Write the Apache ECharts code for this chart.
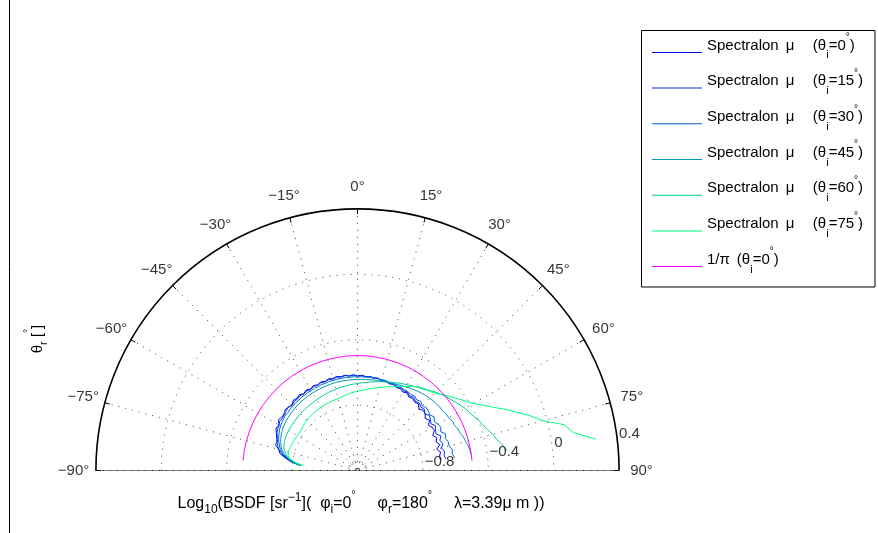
<!DOCTYPE html>
<html><head><meta charset="utf-8">
<script src="https://cdn.jsdelivr.net/npm/echarts@6/dist/echarts.min.js"></script>
<style>html,body{margin:0;padding:0;background:#fff}#c{width:878px;height:533px}</style>
</head><body><div id="c"></div>
<script>
// ---- data ----
const thetaR = [-85,-82.5,-80,-77.5,-75,-72.5,-70,-67.5,-65,-62.5,
 -60,-57.5,-55,-52.5,-50,-47.5,-45,-42.5,-40,-37.5,
 -35,-32.5,-30,-27.5,-25,-22.5,-20,-17.5,-15,-12.5,
 -10,-7.5,-5,-2.5,0,2.5,5,7.5,10,12.5,
 15,17.5,20,22.5,25,27.5,30,32.5,35,37.5,
 40,42.5,45,47.5,50,52.5,55,57.5,60,62.5,
 65,67.5,70,72.5,75,77.5,80,82.5,85];
const spec0 = [-0.85,-0.79,-0.75,-0.712,-0.702,-0.672,-0.68,-0.664,-0.652,-0.638,
 -0.648,-0.626,-0.631,-0.64,-0.622,-0.628,-0.634,-0.618,-0.623,-0.616,
 -0.627,-0.616,-0.625,-0.615,-0.622,-0.614,-0.62,-0.612,-0.618,-0.611,
 -0.618,-0.612,-0.62,-0.614,-0.622,-0.617,-0.624,-0.62,-0.628,-0.622,
 -0.632,-0.626,-0.636,-0.63,-0.64,-0.634,-0.646,-0.636,-0.652,-0.645,
 -0.655,-0.648,-0.668,-0.655,-0.66,-0.678,-0.662,-0.685,-0.672,-0.67,
 -0.692,-0.675,-0.688,-0.672,-0.698,-0.68,-0.69,-0.684,null];
const spec15 = [-0.85,-0.795,-0.755,-0.725,-0.70,-0.688,-0.674,-0.67,-0.656,-0.65,
 -0.644,-0.636,-0.642,-0.63,-0.632,-0.624,-0.636,-0.626,-0.63,-0.622,
 -0.629,-0.622,-0.628,-0.62,-0.625,-0.618,-0.623,-0.616,-0.621,-0.615,
 -0.62,-0.614,-0.62,-0.616,-0.622,-0.618,-0.623,-0.62,-0.625,-0.621,
 -0.628,-0.624,-0.631,-0.627,-0.634,-0.629,-0.638,-0.631,-0.644,-0.636,
 -0.648,-0.64,-0.652,-0.645,-0.662,-0.646,-0.655,-0.668,-0.65,-0.662,
 -0.67,-0.648,-0.664,-0.652,-0.668,-0.655,-0.662,-0.656,null];
const spec30 = [-0.85,-0.80,-0.762,-0.735,-0.712,-0.70,-0.688,-0.678,-0.67,-0.662,
 -0.656,-0.652,-0.648,-0.645,-0.646,-0.642,-0.643,-0.639,-0.64,-0.636,
 -0.638,-0.634,-0.636,-0.632,-0.634,-0.63,-0.632,-0.628,-0.63,-0.627,
 -0.629,-0.626,-0.628,-0.626,-0.628,-0.626,-0.627,-0.625,-0.626,-0.624,
 -0.626,-0.624,-0.626,-0.625,-0.627,-0.626,-0.628,-0.627,-0.632,-0.626,
 -0.636,-0.627,-0.64,-0.63,-0.634,-0.642,-0.628,-0.643,-0.632,-0.626,
 -0.638,-0.616,-0.628,-0.618,-0.62,-0.606,-0.612,-0.60,null];
const spec45 = [-0.85,-0.805,-0.77,-0.742,-0.722,-0.71,-0.70,-0.692,-0.685,-0.68,
 -0.675,-0.671,-0.668,-0.666,-0.664,-0.662,-0.66,-0.658,-0.657,-0.655,
 -0.654,-0.653,-0.652,-0.651,-0.65,-0.649,-0.648,-0.647,-0.646,-0.645,
 -0.645,-0.644,-0.644,-0.643,-0.643,-0.642,-0.641,-0.64,-0.638,-0.636,
 -0.634,-0.631,-0.628,-0.624,-0.62,-0.615,-0.61,-0.602,-0.598,-0.59,
 -0.585,-0.578,-0.576,-0.57,-0.57,-0.564,-0.565,-0.556,-0.556,-0.546,
 -0.546,-0.535,-0.532,-0.52,-0.516,-0.506,-0.502,-0.497,null];
const spec60 = [-0.85,-0.81,-0.78,-0.755,-0.738,-0.728,-0.722,-0.718,-0.716,-0.714,
 -0.713,-0.712,-0.712,-0.711,-0.71,-0.709,-0.708,-0.707,-0.706,-0.705,
 -0.704,-0.702,-0.70,-0.698,-0.695,-0.693,-0.69,-0.688,-0.685,-0.683,
 -0.68,-0.677,-0.674,-0.671,-0.668,-0.664,-0.66,-0.655,-0.65,-0.644,
 -0.638,-0.632,-0.625,-0.618,-0.61,-0.602,-0.594,-0.585,-0.576,-0.566,
 -0.555,-0.538,-0.522,-0.51,-0.495,-0.484,-0.47,-0.455,-0.44,-0.43,
 -0.415,-0.398,-0.385,-0.365,-0.345,-0.325,-0.30,-0.278,null];
const spec75 = [-0.87,-0.815,-0.775,-0.765,-0.762,-0.764,-0.766,-0.768,-0.77,-0.772,
 -0.774,-0.776,-0.775,-0.773,-0.77,-0.767,-0.764,-0.762,-0.76,-0.758,
 -0.756,-0.754,-0.752,-0.751,-0.75,-0.749,-0.748,-0.746,-0.744,-0.74,
 -0.735,-0.73,-0.725,-0.72,-0.715,-0.71,-0.705,-0.698,-0.69,-0.683,
 -0.675,-0.665,-0.655,-0.645,-0.634,-0.62,-0.605,-0.59,-0.572,-0.56,
 -0.552,-0.545,-0.53,-0.51,-0.487,-0.465,-0.44,-0.412,-0.38,-0.335,
 -0.285,-0.222,-0.16,-0.09,-0.025,0.095,0.14,0.27,null];
const lambertAngles = [-85,-80,-75,-70,-65,-60,-55,-50,-45,-40,-35,-30,-25,-20,-15,-10,-5,0,5,10,15,20,25,30,35,40,45,50,55,60,65,70,75,80,85];
const lambertVals = [-0.497,-0.497,-0.497,-0.497,-0.497,-0.497,-0.497,-0.497,-0.497,-0.497,-0.497,-0.497,-0.497,-0.497,-0.497,-0.497,-0.497,-0.497,-0.497,-0.497,-0.497,-0.497,-0.497,-0.497,-0.497,-0.497,-0.497,-0.497,-0.497,-0.497,-0.497,-0.497,-0.497,-0.497,-0.497];
const incidence = [0, 15, 30, 45, 60, 75];
const specSeries = [spec0, spec15, spec30, spec45, spec60, spec75];
const specColors = ['#0000ff', '#0033e6', '#0066cc', '#0099b3', '#00cc99', '#00ff80'];
const lambertColor = '#ff00ff';
const angleTicks = [-90,-75,-60,-45,-30,-15,0,15,30,45,60,75,90];
const radialTicks = [-1.2,-0.8,-0.4,0,0.4];
const radialLabelTicks = [-0.8,-0.4,0,0.4];

// ---- layout ----
const FONT = 'Liberation Sans, Arial, Helvetica, sans-serif';
const CX = 357.5, CY = 470.5, R = 261.6;
const LABEL_R = 0.537;   // radius value where angle labels are centred
const RLABEL_ANGLE = 82; // angle of radial tick labels
const minus = s => String(s).replace('-', '\u2212');

const names = incidence.map(a => 'Spectralon \u03bc (\u03b8i=' + a + '\u00b0)');
const lambertName = '1/\u03c0 (\u03b8i=0\u00b0)';

function legendRich(name) {
  if (name === lambertName) return '{n|1/\u03c0}{a| }{n|(\u03b8}{s|i}{n|=0}{u|\u00b0}{n|)}';
  const m = name.match(/=(\d+)/);
  return '{n|Spectralon}{a| }{n|\u03bc}{b| }{n|(\u03b8}{s|i}{n|=' + m[1] + '}{u|\u00b0}{n|)}';
}

const series = specSeries.map((vals, k) => ({
  name: names[k], type: 'line', coordinateSystem: 'polar', showSymbol: false, clip: false,
  data: thetaR.map((t, i) => [vals[i], t]).filter(d => d[0] !== null),
  lineStyle: { color: specColors[k], width: 1 }, itemStyle: { color: specColors[k] },
  silent: true, z: 3 + k
}));
series.push({
  name: lambertName, type: 'line', coordinateSystem: 'polar', showSymbol: false, clip: false,
  data: lambertAngles.map((t, i) => [lambertVals[i], t]),
  lineStyle: { color: lambertColor, width: 1 }, itemStyle: { color: lambertColor }, silent: true, z: 10
});
// baseline (diameter of the half polar)
const rOuter = radialTicks[radialTicks.length - 1];
series.push({
  type: 'line', coordinateSystem: 'polar', showSymbol: false, clip: false, silent: true,
  data: [[rOuter, angleTicks[0]], [rOuter, angleTicks[angleTicks.length - 1]]],
  lineStyle: { color: '#000', width: 1.2 }, z: 2
});
// angle labels
series.push({
  type: 'scatter', coordinateSystem: 'polar', symbolSize: 1, silent: true, clip: false,
  itemStyle: { color: 'rgba(0,0,0,0)' },
  data: angleTicks.map(a => [LABEL_R, a]),
  label: { show: true, position: 'inside', color: '#000', fontFamily: FONT, fontSize: 15,
    formatter: p => minus(p.value[1]) + '\u00b0' }, z: 12
});
// radial labels
series.push({
  type: 'scatter', coordinateSystem: 'polar', symbolSize: 1, silent: true, clip: false,
  itemStyle: { color: 'rgba(0,0,0,0)' },
  data: radialLabelTicks.map(v => [v, RLABEL_ANGLE]),
  label: { show: true, position: 'right', distance: 2, color: '#000', fontFamily: FONT, fontSize: 15,
    formatter: p => minus(p.value[0]) }, z: 12
});

// rich token: font size, top padding, bottom padding, width
const tok = (fs, pt, pb, w) => {
  const o = { fontSize: fs, verticalAlign: 'top', fontFamily: FONT, color: '#000', padding: [pt, 0, pb || 0, 0] };
  if (w) o.width = w;
  return o;
};

const chart = echarts.init(document.getElementById('c'), null, { renderer: 'canvas' });
chart.setOption({
  animation: false,
  backgroundColor: '#fff',
  polar: { center: [CX, CY], radius: R },
  angleAxis: {
    type: 'value', min: -90, max: 90, interval: 15, startAngle: 180, endAngle: 0, clockwise: true,
    axisLine: { show: true, lineStyle: { color: '#000', width: 1.6 } },
    axisTick: { show: true, inside: true, length: 5, lineStyle: { color: '#000', width: 1 } },
    axisLabel: { show: false },
    splitLine: { show: true, lineStyle: { color: '#444', width: 1, type: [1, 6] } }
  },
  radiusAxis: {
    type: 'value', min: -1.2, max: 0.4, interval: 0.4,
    axisLine: { show: false }, axisTick: { show: false }, axisLabel: { show: false },
    splitLine: { show: true, lineStyle: { color: '#444', width: 1, type: [1, 6] } }
  },
  legend: {
    orient: 'vertical', left: 652, top: 32.4, selectedMode: false,
    data: names.concat([lambertName]),
    icon: 'rect', itemWidth: 50, itemHeight: 1, itemGap: 7.2,
    padding: 0, borderWidth: 0,
    formatter: legendRich,
    textStyle: { fontFamily: FONT, rich: {
      n: tok(15, 8.5), s: tok(11, 20.5, 14.5), u: tok(10, 3),
      a: tok(15, 8.5, 0, 7), b: tok(15, 8.5, 0, 18.5)
    } }
  },
  series: series,
  graphic: [
    { type: 'line', shape: { x1: 9.5, y1: 0, x2: 9.5, y2: 533 }, style: { stroke: '#000', lineWidth: 1 }, silent: true },
    { type: 'rect', shape: { x: 641.5, y: 30.5, width: 233.5, height: 256.5 }, style: { stroke: '#000', fill: null, lineWidth: 1 }, silent: true, z: -1 },
    { type: 'arc', shape: { cx: CX, cy: CY, r: 8, startAngle: Math.PI, endAngle: 2 * Math.PI },
      style: { stroke: '#444', fill: null, lineWidth: 1, lineDash: [1, 2.5] }, silent: true },
    { type: 'text', x: 361, y: 490, silent: true,
      style: { align: 'center', verticalAlign: 'top',
        text: '{n|Log}{s|10}{n|(BSDF [sr}{u|\u22121}{n|](}{g| }{n|\u03c6}{s|i}{n|=0}{d|\u00b0}{w| }{n|\u03c6}{s|r}{n|=180}{d|\u00b0}{w| }{n|\u03bb=3.39\u03bc m ))}',
        rich: { n: tok(16, 6), s: tok(12, 14), u: tok(12, 2), d: tok(10, 0),
          g: tok(16, 6, 0, 9), w: tok(16, 6, 0, 22) } } },
    { type: 'text', x: 36.25, y: 339, rotation: Math.PI / 2, silent: true,
      style: { align: 'center', verticalAlign: 'middle',
        text: '{n|\u03b8}{s|r}{n| [}{d|\u00b0}{n|]}',
        rich: { n: tok(15, 6.5), s: tok(11, 14.5), d: tok(10, 0) } } }
  ]
});
</script></body></html>
